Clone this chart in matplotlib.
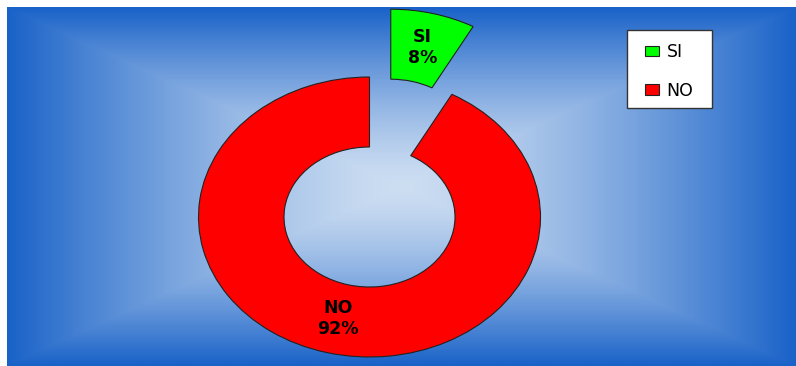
import numpy as np
import matplotlib.pyplot as plt
from matplotlib.patches import Rectangle

## Data
labels = ["SI", "NO"]
values = [8, 92]
colors = ["#00ff00", "#ff0000"]
explode = [0.5, 0]

W, H = 796, 366
fig = plt.figure(figsize=(W / 100, H / 100), dpi=100)

## Background: rectangular "from center" gradient like Excel
bg = fig.add_axes([7 / W, 0, (W - 7) / W, (H - 7) / H])
bg.axis("off")
xx, yy = np.meshgrid(np.linspace(-1, 1, 400), np.linspace(-1, 1, 200))
t = np.maximum(np.abs(xx), np.abs(yy)) ** 1.4
inner = np.array([205, 222, 242]) / 255
outer = np.array([25, 98, 200]) / 255
img = inner + (outer - inner) * t[..., None]
bg.imshow(img, aspect="auto", interpolation="bilinear")

## Donut chart
ax = fig.add_axes([0, 0, 1, 1])
ax.patch.set_visible(False)
lab_iter = iter(labels)
wedges, texts, autotexts = ax.pie(
    values, colors=colors, explode=explode, startangle=90, counterclock=False,
    wedgeprops=dict(width=0.5, edgecolor="#222222", linewidth=0.8),
    autopct=lambda p: f"{next(lab_iter)}\n{p:.0f}%", pctdistance=0.75,
    labeldistance=None,
    textprops=dict(fontsize=12.5, fontweight="bold", color="black", linespacing=1.25),
)
# elliptical donut, as in the original
ax.set_aspect("auto")
cx, cy, rx, ry = 369.5, 149, 171, 140
ax.set_xlim(-cx / rx, (W - cx) / rx)
ax.set_ylim(-cy / ry, (H - cy) / ry)
ax.axis("off")

## Legend box + entries
ax.add_patch(Rectangle((627 / W, 1 - 108 / H), 85 / W, 78 / H,
                       transform=fig.transFigure, facecolor="white", clip_on=False,
                       edgecolor="#333333", linewidth=1.0, zorder=4))
leg = ax.legend(wedges, labels, loc="upper left",
                bbox_to_anchor=(645 / W, 1 - 43 / H), bbox_transform=fig.transFigure,
                borderaxespad=0, borderpad=0, frameon=False,
                fontsize=12.5, handlelength=0.8, handleheight=0.57, labelspacing=1.2,
                handletextpad=0.45)
leg.set_zorder(6)

fig.savefig("out.png", dpi=100)
